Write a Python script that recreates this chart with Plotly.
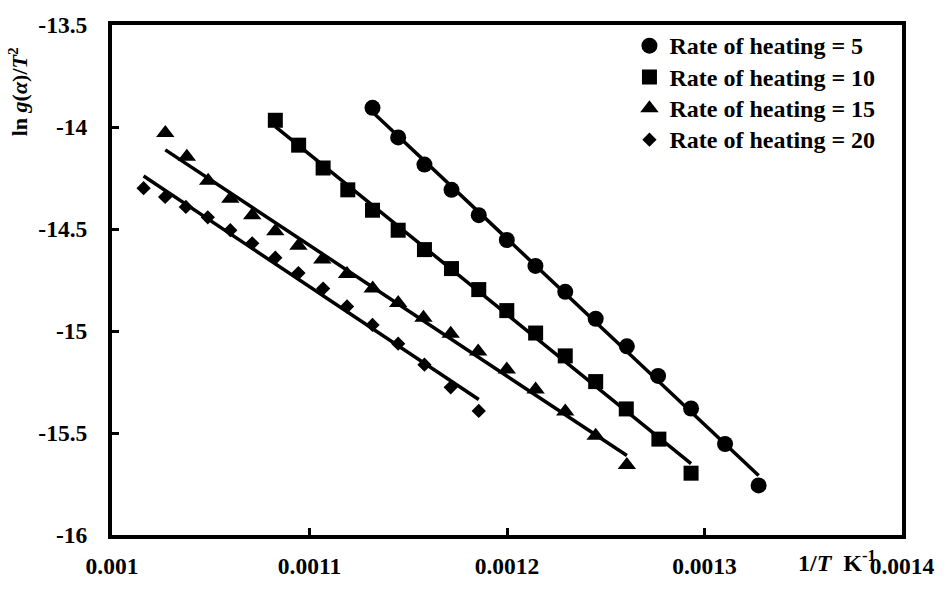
import numpy as np
import plotly.graph_objects as go

# ---- data ----
x_rate5 = [0.0011319, 0.0011449, 0.0011582, 0.0011719, 0.0011857, 0.0011999, 0.0012144,
           0.0012295, 0.0012449, 0.0012607, 0.0012765, 0.0012932, 0.0013104, 0.0013274]
y_rate5 = [-13.906, -14.051, -14.184, -14.308, -14.432, -14.554, -14.681,
           -14.808, -14.940, -15.075, -15.220, -15.380, -15.554, -15.757]

x_rate10 = [0.0010827, 0.0010945, 0.0011069, 0.0011194, 0.0011319, 0.0011449, 0.0011582, 0.0011719,
            0.0011857, 0.0011999, 0.0012145, 0.0012295, 0.0012449, 0.0012604, 0.0012769, 0.0012932]
y_rate10 = [-13.967, -14.089, -14.201, -14.308, -14.408, -14.506, -14.601, -14.694,
            -14.797, -14.900, -15.010, -15.122, -15.248, -15.382, -15.530, -15.697]

x_rate15 = [0.0010270, 0.0010379, 0.0010487, 0.0010599, 0.0010710, 0.0010827, 0.0010944,
            0.0011065, 0.0011190, 0.0011320, 0.0011449, 0.0011577, 0.0011715, 0.0011854,
            0.0011999, 0.0012145, 0.0012295, 0.0012449, 0.0012607]
y_rate15 = [-14.030, -14.146, -14.263, -14.352, -14.432, -14.511, -14.582,
            -14.649, -14.720, -14.792, -14.863, -14.935, -15.014, -15.101,
            -15.189, -15.287, -15.395, -15.514, -15.657]

x_rate20 = [0.0010160, 0.0010269, 0.0010374, 0.0010485, 0.0010599, 0.0010710, 0.0010827,
            0.0010944, 0.0011069, 0.0011190, 0.0011319, 0.0011449, 0.0011582, 0.0011715, 0.0011857]
y_rate20 = [-14.300, -14.343, -14.392, -14.443, -14.506, -14.570, -14.641,
            -14.716, -14.792, -14.880, -14.970, -15.062, -15.165, -15.276, -15.392]

series_names = ["Rate of heating = 5", "Rate of heating = 10",
                "Rate of heating = 15", "Rate of heating = 20"]

x_tickvals = [0.001, 0.0011, 0.0012, 0.0013, 0.0014]
x_ticktext = ["0.001", "0.0011", "0.0012", "0.0013", "0.0014"]
y_tickvals = [-16, -15.5, -15, -14.5, -14, -13.5]
y_ticktext = ["-16", "-15.5", "-15", "-14.5", "-14", "-13.5"]

# ---- styles ----
FONT = "Liberation Serif"
symbols = ["circle", "square", "triangle-up", "diamond"]
sizes = [16, 15, 16, 11]

fig = go.Figure()
all_series = [(x_rate5, y_rate5), (x_rate10, y_rate10), (x_rate15, y_rate15), (x_rate20, y_rate20)]

# linear trend lines (least squares over each series, spanning its x range)
for xs, ys in all_series:
    xa = np.array(xs)
    ya = np.array(ys)
    k, b = np.polyfit(xa, ya, 1)
    xl = np.array([xa.min(), xa.max()])
    fig.add_trace(go.Scatter(x=xl, y=k * xl + b, mode="lines",
                             line=dict(color="black", width=3.5),
                             showlegend=False, hoverinfo="skip"))

for (xs, ys), name, sym, sz in zip(all_series, series_names, symbols, sizes):
    fig.add_trace(go.Scatter(
        x=xs, y=ys, mode="markers",
        name='<span style="font-size:24px"><b>' + name + "</b></span>",
        marker=dict(symbol=sym, size=sz, color="black", line=dict(width=0))))

fig.update_layout(
    width=947, height=591,
    margin=dict(l=112, r=35, t=22, b=44),
    paper_bgcolor="white", plot_bgcolor="white",
    font=dict(family=FONT, size=22, color="black"),
    showlegend=True,
    legend=dict(x=0.655, y=1.0, xanchor="left", yanchor="top",
                bgcolor="rgba(0,0,0,0)", borderwidth=0,
                font=dict(family=FONT, size=21.8, color="black"),
                itemwidth=30, tracegroupgap=0),
)

fig.update_xaxes(
    range=[0.001, 0.0014], tickvals=x_tickvals,
    ticktext=["<b>" + t + "</b>" for t in x_ticktext],
    showgrid=False, zeroline=False,
    showline=True, linecolor="black", linewidth=4, mirror=True,
    ticks="inside", ticklen=7, tickwidth=3, tickcolor="black",
    tickfont=dict(family=FONT, size=23.5, color="black"),
    ticklabelstandoff=7,
)
fig.update_yaxes(
    range=[-16, -13.5], tickvals=y_tickvals,
    ticktext=["<b>" + t + "</b>" for t in y_ticktext],
    showgrid=False, zeroline=False,
    showline=True, linecolor="black", linewidth=4, mirror=True,
    ticks="inside", ticklen=7, tickwidth=3, tickcolor="black",
    tickfont=dict(family=FONT, size=23.5, color="black"),
    ticklabelstandoff=16,
)

# axis titles
fig.add_annotation(text="<b>ln <i>g</i>(<i>α</i>)/<i>T</i><sup>2</sup></b>",
                   xref="paper", yref="paper", x=-0.119, y=0.87,
                   xanchor="center", yanchor="middle", textangle=-90,
                   showarrow=False, font=dict(family=FONT, size=22, color="black"))
fig.add_annotation(text="<b>1/<i>T</i>  K<sup>-1</sup></b>",
                   xref="paper", yref="paper", x=0.866, y=-0.05,
                   xanchor="left", yanchor="middle",
                   showarrow=False, font=dict(family=FONT, size=24, color="black"))

fig.write_html("out.html")
